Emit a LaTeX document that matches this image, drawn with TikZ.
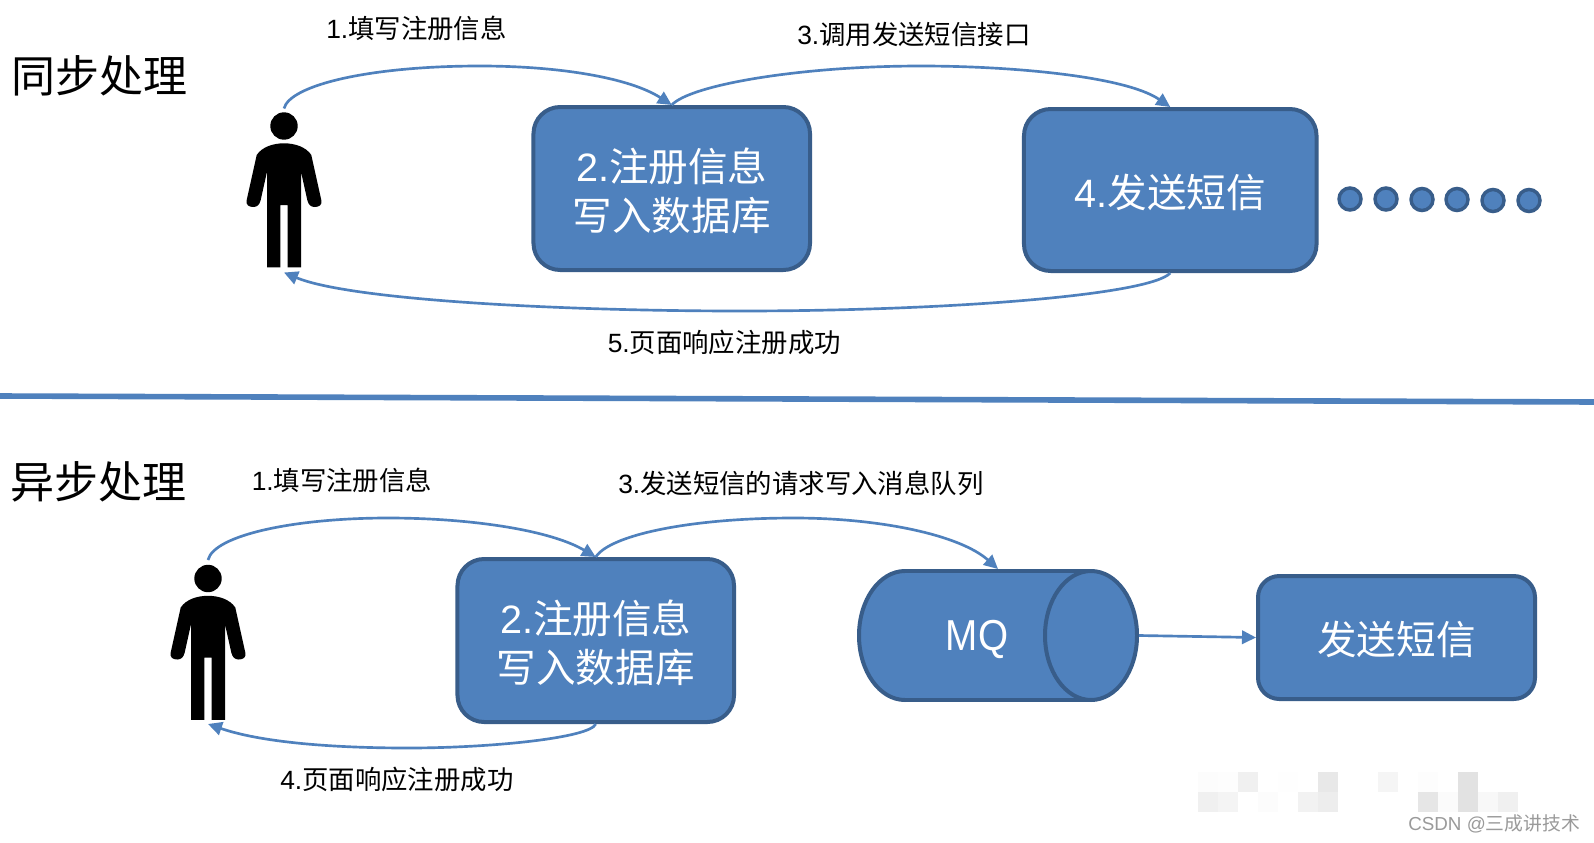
\documentclass[tikz,border=0pt]{standalone}
\usepackage{fontspec}
\setmainfont{Liberation Sans}
\newfontfamily\cjk{Noto Sans CJK SC}
\usetikzlibrary{arrows.meta}
\definecolor{boxfill}{HTML}{4F81BD}
\definecolor{boxline}{HTML}{385D8A}
\definecolor{wmgray}{HTML}{9A9A9A}
\newcommand{\dropline}[1]{\raisebox{-1.6pt}[\height][\depth]{#1}}
\tikzset{
  shapebox/.style={draw=boxline,fill=boxfill,line width=3pt,rounded corners=20pt,inner sep=0pt,text=white,align=center,
    font=\fontsize{29.7}{36.75}\selectfont},
  dotnode/.style={circle,draw=boxline,fill=boxfill,line width=2.6pt,minimum size=16.5pt,inner sep=0pt},
  flow/.style={draw=boxfill,line width=2pt,-{Triangle[length=10.5pt,width=10pt]}},
  lab/.style={anchor=west,inner sep=0pt,font=\fontsize{19.8}{24}\selectfont},
  heading/.style={anchor=west,inner sep=0pt,font=\fontsize{33}{38}\selectfont},
  ghost/.style={inner sep=0pt,outer sep=0pt},
  personghost/.style={ghost,minimum width=56pt,minimum height=123pt},
}
\newcommand{\personfig}[1]{%
  \begin{scope}[shift={(#1)}]
    \fill[black] (0,0) circle (13.7);
    \fill[black] (0,17.3) .. controls (-11,17.3) and (-22,21) .. (-27.3,29)
      -- (-37.3,74) .. controls (-38.5,79) and (-35,81) .. (-30.7,81)
      .. controls (-27,81) and (-24.5,79) .. (-23.3,74)
      -- (-17,45.7) -- (-17,141.3) -- (-3.7,141.3) -- (-3.7,79) -- (3.7,79) -- (3.7,141.3) -- (17,141.3) -- (17,45.7)
      -- (23.3,74) .. controls (24.5,79) and (27,81) .. (30.7,81)
      .. controls (35,81) and (38.5,79) .. (37.3,74)
      -- (27.3,29) .. controls (22,21) and (11,17.3) .. (0,17.3) -- cycle;
  \end{scope}}
\begin{document}
\begin{tikzpicture}[x=0.75pt,y=-0.75pt]
\useasboundingbox (0,0) rectangle (1594,842);
\fill[white] (0,0) rectangle (1594,842);

% watermark tiles
\foreach \c/\r/\g in {0/0/FCFCFC,1/0/FDFDFD,2/0/F0F0F0,4/0/FEFEFE,6/0/E8E8E8,9/0/F5F5F5,11/0/FDFDFD,13/0/E2E2E2,
                      0/1/F0F0F0,1/1/F4F4F4,3/1/FCFCFC,5/1/F2F2F2,6/1/EDEDED,11/1/E6E6E6,12/1/FBFBFB,13/1/E2E2E2,14/1/F8F8F8,15/1/F0F0F0}{
  \definecolor{tilecol}{HTML}{\g}
  \fill[tilecol] ({1198+20*\c},{772+20*\r}) rectangle ++(20,20);
}

% headings
\node[heading] (h1) at (11,76) {\cjk 同步处理};
\node[heading] (h2) at (10,482) {\cjk 异步处理};

% persons
\personfig{284,126}
\personfig{208,578.5}
\node[personghost] (p1) at (284,190.5) {};
\node[personghost] (p2) at (208,642) {};

% top row
\node[shapebox,minimum width=207.4pt,minimum height=122.25pt] (boxA) at (671.75,188.5) {\dropline{2.{\cjk 注册信息}}\\\dropline{\cjk 写入数据库}};
\node[shapebox,minimum width=219.4pt,minimum height=121.5pt] (boxB) at (1170.25,190) {\dropline{4.{\cjk 发送短信}}};
\node[dotnode] (d1) at (1350,199) {};
\node[dotnode] (d2) at (1386,199) {};
\node[dotnode] (d3) at (1422,199.5) {};
\node[dotnode] (d4) at (1457,199.5) {};
\node[dotnode] (d5) at (1493,200.5) {};
\node[dotnode] (d6) at (1529,200.5) {};

% divider
\coordinate (divL) at (0,396);
\coordinate (divR) at (1594,402);
\draw[boxfill,line width=4.2pt] (divL) -- (divR);

% bottom row
\node[shapebox,minimum width=207.4pt,minimum height=122.25pt] (boxC) at (595.75,640.5) {\dropline{2.{\cjk 注册信息}}\\\dropline{\cjk 写入数据库}};
\node[shapebox,rounded corners=16pt,minimum width=207.75pt,minimum height=92.25pt] (send) at (1396.5,637.5) {\dropline{\cjk 发送短信}};

% MQ cylinder
\draw[draw=boxline,fill=boxfill,line width=3pt] (905,635.5) ellipse [x radius=46,y radius=64.5];
\fill[boxfill] (905,571) rectangle (1091,700);
\draw[boxline,line width=3pt] (905,571) -- (1091,571) (905,700) -- (1091,700);
\draw[draw=boxline,fill=boxfill,line width=3pt] (1091,635.5) ellipse [x radius=46,y radius=64.5];
\node[ghost,minimum width=211.5pt,minimum height=99.75pt] (mq) at (998,635.5) {};
\node[inner sep=0pt,text=white,yscale=1.12,font=\fontsize{29}{34}\selectfont] (mqlabel) at (977,639.5) {MQ};

% connectors, top
\draw[flow] (p1.north) .. controls (290,85) and (370,66) .. (480,66) .. controls (560,66) and (630,78) .. (boxA.north);
\draw[flow] (boxA.north) .. controls (690,85) and (800,66) .. (921,66) .. controls (1010,66) and (1125,76) .. (boxB.north);
\draw[flow] (boxB.south) .. controls (1150,295) and (950,311) .. (740,311) .. controls (560,311) and (350,300) .. (p1.south);

% connectors, bottom
\draw[flow] (p2.north) .. controls (214,535) and (295,518) .. (388,518) .. controls (470,518) and (550,530) .. (boxC.north);
\draw[flow] (boxC.north) .. controls (610,535) and (690,518) .. (794,518) .. controls (880,518) and (960,535) .. (mq.north);
\draw[flow] (boxC.south) .. controls (590,738) and (490,748) .. (408,748) .. controls (330,748) and (260,742) .. (p2.south);
\draw[flow] (mq.east) -- (send.west);

% labels
\node[lab] (t1) at (326,28.5) {1.{\cjk 填写注册信息}};
\node[lab] (t2) at (797,34.5) {3.{\cjk 调用发送短信接口}};
\node[lab] (t3) at (607.5,342.5) {5.{\cjk 页面响应注册成功}};
\node[lab] (b1) at (251.5,480.5) {1.{\cjk 填写注册信息}};
\node[lab] (b2) at (618,483.5) {3.{\cjk 发送短信的请求写入消息队列}};
\node[lab] (b3) at (280,779) {4.{\cjk 页面响应注册成功}};

% watermark
\node[anchor=west,inner sep=0pt,text=wmgray,font=\fontsize{14.1}{18}\selectfont] (wm) at (1408,823.5) {CSDN @{\cjk 三成讲技术}};
\end{tikzpicture}
\end{document}
